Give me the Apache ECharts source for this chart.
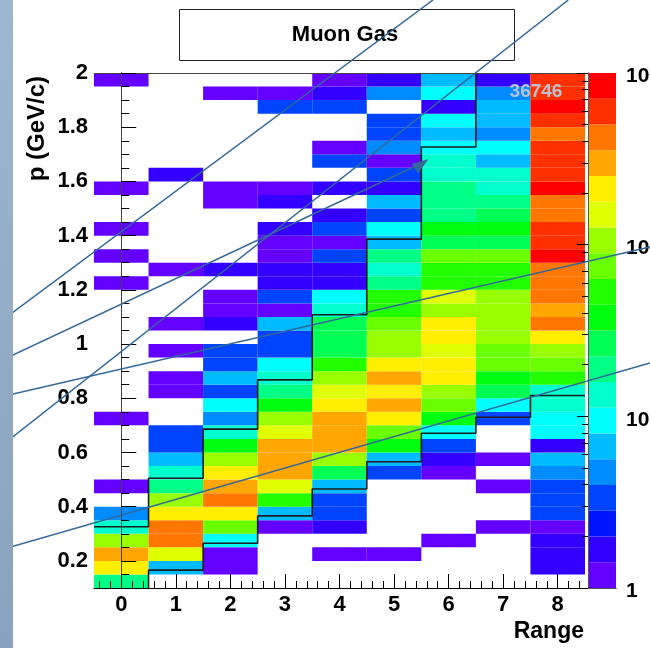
<!DOCTYPE html>
<html><head><meta charset="utf-8">
<script src="https://cdn.jsdelivr.net/npm/echarts@6/dist/echarts.min.js"></script>
<style>html,body{margin:0;padding:0;background:#fff}#c{width:650px;height:648px}</style>
</head><body><div id="c"></div>
<script>
// ---- data: counts per p-bin (0.05 GeV/c wide, from p = 0.10 upward), one array per Range bin
const rangeBins = [0, 1, 2, 3, 4, 5, 6, 7, 8];
const pStart = 0.1, pEnd = 2.0, pBinWidth = 0.05;
const range0 = [19,211,299,106,13,4.7,0,1,0,0, 0,0,1,0,0,0,0,0,0,0, 0,0,1,0,1,0,1,0,0,1, 0,0,0,0,0,0,0,1];
const range1 = [0,6.7,150,422,422,211,106,19,13,6.7, 3.3,3.3,0,0,1,1,0,1,0,1, 0,0,0,1,0,0,0,0,0,0, 1.7,0,0,0,0,0,0,0];
const range2 = [0,1,1,9.4,75,211,422,299,211,106, 38,13,4.7,9.4,3.3,6.7,3.3,3.3,0,1.7, 1,1,0,1.7,0,0,0,0,1,1, 0,0,0,0,0,0,1,0];
const range3 = [0,0,0,0,1,6.7,53,150,299,299, 299,150,106,38,19,13,9.4,3.3,3.3,6.7, 1,3.3,1.7,1.7,1,1,1.7,0,1.7,1, 0,0,0,0,0,3.3,1,0];
const range4 = [0,0,1,0,1.7,3.3,3.3,6.7,27,106, 299,299,299,211,150,106,53,27,27,27, 13,9.4,1.7,1.7,3.3,1,3.3,1.7,0,1.7, 0,3.3,1,0,0,3.3,1.7,1];
const range5 = [0,0,1,0,0,0,0,0,3.3,6.7, 38,75,211,299,211,299,211,106,106,75, 53,53,19,13,19,6.7,9.4,3.3,6.7,1.7, 3.3,1,4.7,3.3,3.3,0,4.7,1.7];
const range6 = [0,0,0,1,0,0,0,0,1,1.7, 3.3,9.4,38,75,106,211,211,150,211,211, 106,150,53,53,75,27,38,19,19,19, 13,13,9.4,6.7,9.4,1.7,9.4,6.7];
const range7 = [0,0,0,0,1,0,0,1,0,1, 0,0,3.3,9.4,27,38,75,75,106,106, 106,106,53,53,75,27,38,27,19,13, 13,6.7,9.4,4.7,6.7,6.7,4.7,1.7];
const range8 = [0,1.7,1.7,1.7,1,3.3,3.3,3.3,4.7,6.7, 1.7,9.4,9.4,13,13,53,75,106,211,422, 299,422,422,422,842,596,596,422,422,842, 596,596,596,422,596,842,596,596];
const columns = [range0, range1, range2, range3, range4, range5, range6, range7, range8];
// cut band (upper / lower edge of momentum per range bin)
const upperCut = [0.326, 0.505, 0.686, 0.868, 1.108, 1.387, 1.727, 2.2, 2.2];
const lowerCut = [0.07, 0.166, 0.265, 0.366, 0.465, 0.566, 0.671, 0.730, 0.810];
// tick labels
const xTickLabels = [0, 1, 2, 3, 4, 5, 6, 7, 8];
const yTickLabels = [0.2, 0.4, 0.6, 0.8, 1.0, 1.2, 1.4, 1.6, 1.8, 2.0];
const zDecades = [0, 1, 2, 3]; // log10 of 1, 10, 100, 1000
const zSup = ['', '', '2', '3'];
const entriesText = '36746';
const titleText = 'Muon Gas';
const palette = ['#6300ff','#3300ff','#0014ff','#0044ff','#008bff','#00bbff','#00fffc','#00ffcc','#00ff85','#00ff55',
                 '#00ff0e','#22ff00','#69ff00','#99ff00','#e0ff00','#ffee00','#ffa700','#ff7700','#ff3000','#ff0000'];
const nLevels = 20, zLogMax = 3;

// ---- build series data
const cells = [];
columns.forEach((col, i) => col.forEach((v, j) => {
  if (v > 0) cells.push([rangeBins[i], +(pStart + j * pBinWidth).toFixed(2), v]);
}));
function stairs(vals) {
  const pts = [];
  vals.forEach((v, i) => { pts.push([rangeBins[i] - 0.5, v]); pts.push([rangeBins[i] + 0.5, v]); });
  return pts;
}
const bands = [];
for (let k = 0; k < nLevels; k++) bands.push([k, k * zLogMax / nLevels, (k + 1) * zLogMax / nLevels]);
function levelOf(v) {
  let k = Math.floor(Math.log10(v) / (zLogMax / nLevels) + 1e-9);
  return Math.max(0, Math.min(nLevels - 1, k));
}
const xMinor = [], yMinor = [], zMinor = [];
for (let t = -0.4; t < 8.5; t += 0.2) xMinor.push(+t.toFixed(2));
for (let t = 0.1; t <= 2.0001; t += 0.05) yMinor.push(+t.toFixed(2));
for (let d = 0; d < 3; d++) for (let m = 2; m <= 9; m++) zMinor.push(d + Math.log10(m));

const FONT = "'Liberation Sans', Arial, Helvetica, sans-serif";
const chart = echarts.init(document.getElementById('c'), null, {renderer: 'canvas'});
const lineC = '#000';
const baseAxis = {axisLine:{show:false}, axisTick:{show:false}, axisLabel:{show:false}, splitLine:{show:false}};

chart.setOption({
  backgroundColor: '#fff',
  animation: false,
  grid: [
    {left: 94, top: 73, width: 491, height: 515, containLabel:false, outerBoundsMode:'none'},
    {left: 588, top: 73, width: 28, height: 515, containLabel:false, outerBoundsMode:'none'}
  ],
  xAxis: [
    {gridIndex:0, type:'value', min:-0.5, max:8.5, position:'bottom', z:10,
      axisLine:{lineStyle:{color:lineC, width:1}},
      axisTick:{inside:true, length:14, customValues:xTickLabels, lineStyle:{color:lineC}},
      axisLabel:{customValues:xTickLabels, fontFamily:FONT, fontWeight:'bold', fontSize:22, color:'#000', margin:6},
      splitLine:{show:false}},
    Object.assign({}, baseAxis, {gridIndex:0, type:'value', min:-0.5, max:8.5, position:'bottom', z:10,
      axisTick:{show:true, inside:true, length:7, customValues:xMinor, lineStyle:{color:lineC}}}),
    Object.assign({}, baseAxis, {gridIndex:0, type:'value', min:-0.5, max:8.5, position:'top', z:10,
      axisLine:{show:true, lineStyle:{color:'#444', width:1}}}),
    Object.assign({}, baseAxis, {gridIndex:1, type:'value', min:0, max:1, position:'bottom', z:10,
      axisLine:{show:true, lineStyle:{color:'#555', width:1}}}),
    Object.assign({}, baseAxis, {gridIndex:1, type:'value', min:0, max:1, position:'top', z:10,
      axisLine:{show:true, lineStyle:{color:'#555', width:1}}})
  ],
  yAxis: [
    {gridIndex:0, type:'value', min:pStart, max:pEnd, position:'left', z:10,
      axisLine:{lineStyle:{color:lineC, width:1}},
      axisTick:{inside:true, length:15, customValues:yTickLabels, lineStyle:{color:lineC}},
      axisLabel:{customValues:yTickLabels, formatter:v => String(+(+v).toFixed(1)), fontFamily:FONT, fontWeight:'bold', fontSize:22, color:'#000', margin:6},
      splitLine:{show:false}},
    Object.assign({}, baseAxis, {gridIndex:0, type:'value', min:pStart, max:pEnd, position:'left', z:10,
      axisTick:{show:true, inside:true, length:8, customValues:yMinor, lineStyle:{color:lineC}}}),
    Object.assign({}, baseAxis, {gridIndex:0, type:'value', min:pStart, max:pEnd, position:'right', z:10,
      axisLine:{show:true, lineStyle:{color:'#444', width:1}}}),
    {gridIndex:1, type:'value', min:0, max:zLogMax, position:'right', z:10,
      axisLine:{show:true, lineStyle:{color:'#555', width:1}},
      axisTick:{inside:true, length:11, customValues:zDecades, lineStyle:{color:'#000'}},
      axisLabel:{customValues:zDecades, margin:10, padding:[7,0,0,0],
        formatter: v => v === 0 ? '{b|1}' : (v === 1 ? '{b|10}' : '{b|10}{s|' + zSup[v] + '}'),
        rich:{b:{fontFamily:FONT, fontWeight:'bold', fontSize:21, color:'#000'},
              s:{fontFamily:FONT, fontWeight:'bold', fontSize:14, color:'#000', verticalAlign:'top'}}},
      splitLine:{show:false}},
    Object.assign({}, baseAxis, {gridIndex:1, type:'value', min:0, max:zLogMax, position:'right', z:10,
      axisTick:{show:true, inside:true, length:6, customValues:zMinor, lineStyle:{color:'#000'}}}),
    Object.assign({}, baseAxis, {gridIndex:1, type:'value', min:0, max:zLogMax, position:'left', z:10,
      axisLine:{show:true, lineStyle:{color:'#555', width:1}}})
  ],
  series: [
    {type:'custom', xAxisIndex:0, yAxisIndex:0, data:cells, z:2,
      renderItem: (params, api) => {
        const x = api.value(0), p = api.value(1), v = api.value(2);
        const a = api.coord([x - 0.5, p + pBinWidth]);
        const b = api.coord([x + 0.5, p]);
        return {type:'rect', shape:{x:a[0], y:a[1], width:b[0]-a[0], height:b[1]-a[1]},
                style:{fill:palette[levelOf(v)]}};
      }},
    {type:'custom', xAxisIndex:3, yAxisIndex:3, data:bands, z:2,
      renderItem: (params, api) => {
        const a = api.coord([0, api.value(2)]);
        const b = api.coord([1, api.value(1)]);
        return {type:'rect', shape:{x:a[0], y:a[1], width:b[0]-a[0], height:b[1]-a[1]},
                style:{fill:palette[api.value(0)]}};
      }},
    {type:'line', xAxisIndex:0, yAxisIndex:0, data:stairs(upperCut), symbol:'none', clip:true, z:5,
      lineStyle:{color:'#1c1c1c', width:1.6}},
    {type:'line', xAxisIndex:0, yAxisIndex:0, data:stairs(lowerCut), symbol:'none', clip:true, z:5,
      lineStyle:{color:'#1c1c1c', width:1.6}}
  ],
  graphic: [
    {type:'line', z:100, shape:{x1:0, y1:322, x2:433, y2:0}, style:{stroke:'#33689a', lineWidth:1.5}},
    {type:'line', z:100, shape:{x1:0, y1:447, x2:568.3, y2:0}, style:{stroke:'#33689a', lineWidth:1.5}},
    {type:'line', z:100, shape:{x1:0, y1:361, x2:420, y2:164}, style:{stroke:'#33689a', lineWidth:1.5}},
    {type:'polygon', z:100, shape:{points:[[428.5,159],[411.5,164],[418,173.5]]}, style:{fill:'#33689a'}},
    {type:'line', z:100, shape:{x1:0, y1:397, x2:650, y2:247}, style:{stroke:'#33689a', lineWidth:1.5}},
    {type:'line', z:100, shape:{x1:0, y1:550, x2:650, y2:363}, style:{stroke:'#33689a', lineWidth:1.5}},
    {type:'rect', z:101, shape:{x:0, y:0, width:13, height:648},
      style:{fill:new echarts.graphic.LinearGradient(0,0,0,1,[{offset:0,color:'#9cb7cf'},{offset:1,color:'#89a2bd'}])}},
    {type:'rect', z:50, shape:{x:179.5, y:9.5, width:335, height:51}, style:{fill:'#fff', stroke:'#222', lineWidth:1}},
    {type:'text', z:51, x:345, y:35, style:{text:titleText, fontFamily:FONT, fontWeight:'bold', fontSize:22, fill:'#000', align:'center', verticalAlign:'middle'}},
    {type:'text', z:60, x:536, y:92, style:{text:entriesText, fontFamily:FONT, fontWeight:'bold', fontSize:19, fill:'#b8c2d4', align:'center', verticalAlign:'middle'}},
    {type:'text', z:60, x:584, y:632, style:{text:'Range', fontFamily:FONT, fontWeight:'bold', fontSize:23, fill:'#000', align:'right', verticalAlign:'middle'}},
    {type:'text', z:60, x:37, y:76, rotation:Math.PI/2, style:{text:'p (GeV/c)', fontFamily:FONT, fontWeight:'bold', fontSize:24, fill:'#000', align:'right', verticalAlign:'middle'}}
  ]
});
</script></body></html>
